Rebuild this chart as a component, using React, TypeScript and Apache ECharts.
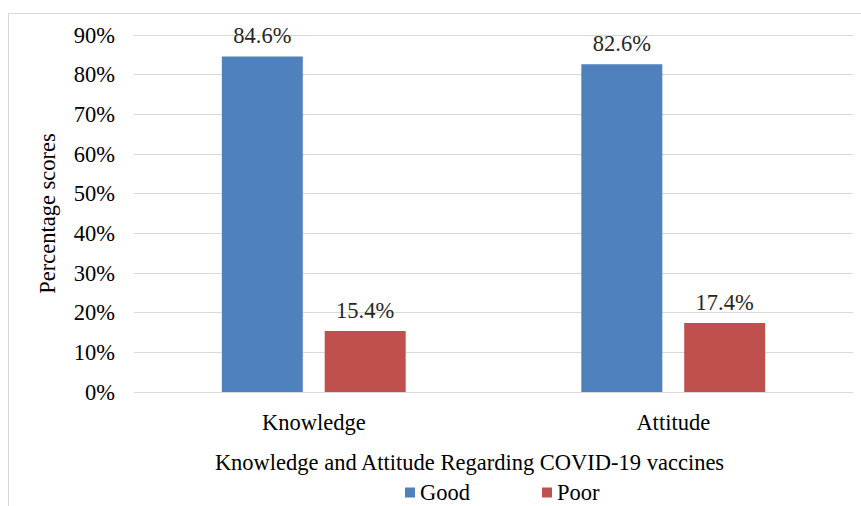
import React, { useEffect, useRef } from "react";
import * as echarts from "echarts";

const categories = ["Knowledge", "Attitude"];
const goodValues = [84.6, 82.6];
const poorValues = [15.4, 17.4];
const seriesNames = ["Good", "Poor"];

const FONT = "'Liberation Serif', 'Times New Roman', serif";
const FS = 22.5;

export default function App() {
  const ref = useRef<HTMLDivElement>(null);
  useEffect(() => {
    const chart = echarts.init(ref.current!, null, { renderer: "svg" });
    const label = {
      show: true,
      position: "top" as const,
      distance: 9,
      color: "#262626",
      fontFamily: FONT,
      fontSize: FS,
      formatter: (p: any) => p.value.toFixed(1) + "%",
    };
    chart.setOption({
      animation: false,
      backgroundColor: "#ffffff",
      graphic: [
        {
          type: "rect",
          shape: { x: 8.5, y: 13.5, width: 900, height: 600 },
          style: { fill: "none", stroke: "#d9d9d9", lineWidth: 1 },
          silent: true,
        },
      ],
      grid: { left: 134, right: 8, top: 35, bottom: 114 },
      legend: {
        data: seriesNames,
        left: 400,
        top: 476,
        itemWidth: 10,
        itemHeight: 10,
        itemGap: 72,
        icon: "rect",
        textStyle: { fontFamily: FONT, fontSize: FS, color: "#000" },
      },
      xAxis: {
        type: "category",
        data: categories,
        axisLine: { show: false },
        axisTick: { show: false },
        axisLabel: { fontFamily: FONT, fontSize: FS, color: "#000", margin: 19 },
        name: "Knowledge and Attitude Regarding COVID-19 vaccines",
        nameLocation: "middle",
        nameGap: 59,
        nameTextStyle: { fontFamily: FONT, fontSize: FS, color: "#000", padding: [0, 48, 0, 0] },
      },
      yAxis: {
        type: "value",
        min: 0,
        max: 90,
        interval: 10,
        axisLine: { show: false },
        axisTick: { show: false },
        splitLine: { lineStyle: { color: "#d9d9d9", width: 1 } },
        axisLabel: { formatter: "{value}%", fontFamily: FONT, fontSize: FS, color: "#000", margin: 19 },
        name: "Percentage scores",
        nameLocation: "middle",
        nameGap: 75,
        nameTextStyle: { fontFamily: FONT, fontSize: FS, color: "#000" },
      },
      series: [
        {
          name: seriesNames[0],
          type: "bar",
          data: goodValues,
          barWidth: 81,
          barGap: "27%",
          itemStyle: { color: "#4F81BD" },
          label,
        },
        {
          name: seriesNames[1],
          type: "bar",
          data: poorValues,
          barWidth: 81,
          barGap: "27%",
          itemStyle: { color: "#C0504D" },
          label,
        },
      ],
    });
    return () => chart.dispose();
  }, []);
  return (
    <div
      ref={ref}
      style={{ position: "fixed", left: 0, top: 0, width: 861, height: 506 }}
    />
  );
}
